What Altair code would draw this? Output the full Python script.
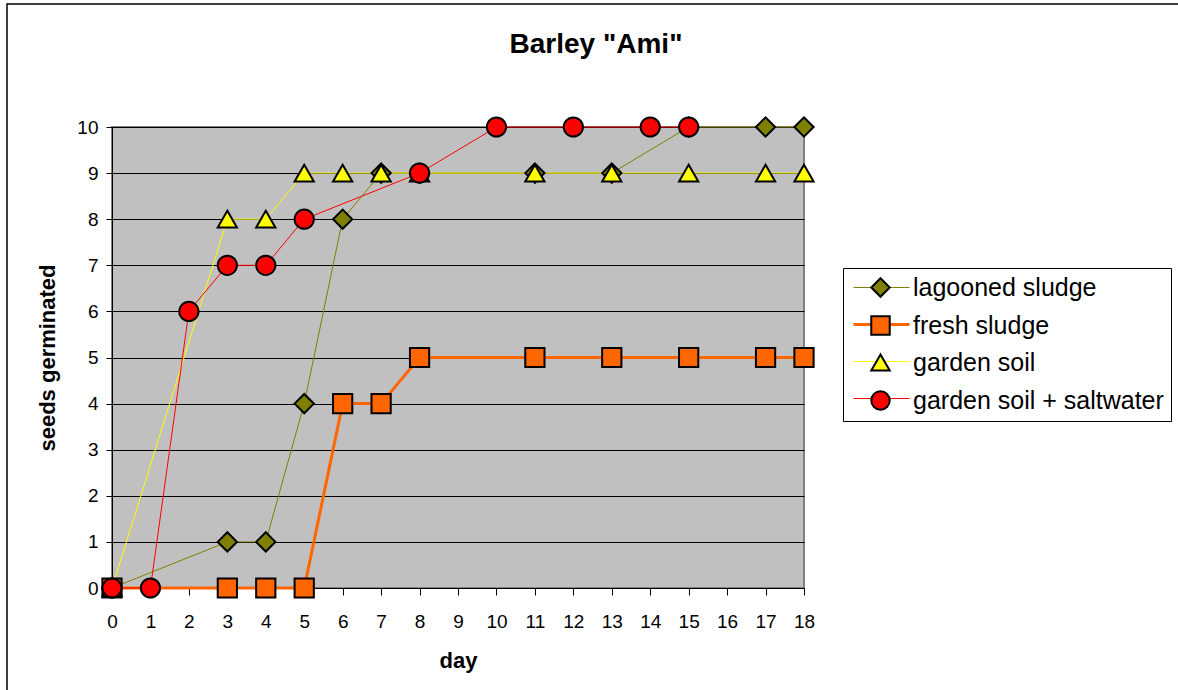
import altair as alt
import pandas as pd

# --- data -------------------------------------------------------------
days = list(range(19))

series_names = ["lagooned sludge", "fresh sludge", "garden soil", "garden soil + saltwater"]

lagooned_days = [0, 3, 4, 5, 6, 7, 8, 11, 13, 15, 17, 18]
lagooned_vals = [0, 1, 1, 4, 8, 9, 9, 9, 9, 10, 10, 10]

fresh_days = [0, 3, 4, 5, 6, 7, 8, 11, 13, 15, 17, 18]
fresh_vals = [0, 0, 0, 0, 4, 4, 5, 5, 5, 5, 5, 5]

garden_days = [0, 3, 4, 5, 6, 7, 8, 11, 13, 15, 17, 18]
garden_vals = [0, 8, 8, 9, 9, 9, 9, 9, 9, 9, 9, 9]

salt_days = [0, 1, 2, 3, 4, 5, 8, 10, 12, 14, 15]
salt_vals = [0, 0, 6, 7, 7, 8, 9, 10, 10, 10, 10]

y_ticks = list(range(11))

# --- styles -----------------------------------------------------------
line_colors = ["#808000", "#FF6600", "#FFFF00", "#FF0000"]
marker_fills = ["#808000", "#FF6600", "#FFFF00", "#FF0000"]
marker_edges = ["black", "black", "black", "black"]
marker_shapes = ["diamond", "square", "triangle-up", "circle"]
FONT = "Liberation Sans"

rows = []
for name, ds, vs in zip(
    series_names,
    [lagooned_days, fresh_days, garden_days, salt_days],
    [lagooned_vals, fresh_vals, garden_vals, salt_vals],
):
    for d, v in zip(ds, vs):
        rows.append({"series": name, "day": d, "seeds": v})
df = pd.DataFrame(rows)

x_enc = alt.X(
    "day:O",
    scale=alt.Scale(type="point", domain=days, padding=0),
    axis=alt.Axis(
        values=days,
        labelAngle=0,
        labelFont=FONT,
        labelFontSize=19,
        labelColor="black",
        labelPadding=17,
        tickColor="black",
        tickSize=7,
        domainColor="black",
        grid=False,
        title="day",
        titleFont=FONT,
        titleFontSize=22,
        titleFontWeight="bold",
        titleColor="black",
        titleX=346,
        titleY=72,
        titleBaseline="middle",
    ),
)
y_enc = alt.Y(
    "seeds:Q",
    scale=alt.Scale(domain=[0, 10], nice=False),
    axis=alt.Axis(
        values=y_ticks,
        labelFont=FONT,
        labelFontSize=19,
        labelColor="black",
        labelPadding=8,
        tickColor="black",
        tickSize=6,
        domainColor="black",
        grid=True,
        gridColor="black",
        gridWidth=1,
        title="seeds germinated",
        titleFont=FONT,
        titleFontSize=22,
        titleFontWeight="bold",
        titleColor="black",
        titleX=-65,
        titleY=230.5,
        titleBaseline="middle",
    ),
)

# legend drawing only the line segments (underneath); its labels are blank
line_legend = alt.Legend(
    orient="none",
    legendX=750,
    legendY=141,
    padding=7,
    title=None,
    symbolType="stroke",
    symbolSize=3136,
    symbolStrokeWidth=alt.ExprRef("datum.value == 'fresh sludge' ? 3 : 1"),
    symbolOffset=0,
    labelExpr="' '",
    labelLimit=0,
    labelFont=FONT,
    labelFontSize=25,
    rowPadding=11,
    zindex=0,
)

# legend drawing the markers, labels and box (on top)
marker_legend = alt.Legend(
    orient="none",
    legendX=731,
    legendY=141,
    padding=7,
    title=None,
    strokeColor="black",
    symbolSize=340,
    symbolStrokeWidth=2,
    symbolOpacity=1,
    symbolOffset=18,
    labelOffset=20,
    labelLimit=0,
    labelFont=FONT,
    labelFontSize=25,
    labelColor="black",
    rowPadding=11,
    zindex=5,
)

frame = alt.Chart(pd.DataFrame({"k": [0]})).mark_rect(
    fillOpacity=0, stroke="black", strokeWidth=1.5
).encode(
    x=alt.value(-105), x2=alt.value(1150), y=alt.value(-123), y2=alt.value(650)
)

lines = alt.Chart(df).mark_line().encode(
    x=x_enc,
    y=y_enc,
    color=alt.Color(
        "series:N",
        sort=series_names,
        scale=alt.Scale(range=line_colors),
        legend=line_legend,
    ),
    strokeWidth=alt.condition(
        alt.datum.series == "fresh sludge", alt.value(3), alt.value(1)
    ),
)

points = alt.Chart(df).mark_point(
    filled=True, size=370, strokeWidth=2, opacity=1
).encode(
    x=x_enc,
    y=y_enc,
    fill=alt.Fill(
        "series:N",
        scale=alt.Scale(domain=series_names, range=marker_fills),
        legend=marker_legend,
    ),
    shape=alt.Shape(
        "series:N",
        scale=alt.Scale(domain=series_names, range=marker_shapes),
        legend=marker_legend,
    ),
    stroke=alt.Stroke(
        "series:N",
        scale=alt.Scale(domain=series_names, range=marker_edges),
        legend=marker_legend,
    ),
)

chart = (
    alt.layer(frame, lines, points)
    .properties(
        width=692,
        height=461,
        title=alt.TitleParams(
            'Barley "Ami"',
            font=FONT,
            fontSize=28,
            fontWeight="bold",
            color="black",
            anchor="middle",
            dx=138,
            offset=-78,
            baseline="alphabetic",
        ),
        autosize=alt.AutoSizeParams(type="none"),
        padding={"left": 112, "top": 127, "right": 374, "bottom": 102},
        background="white",
    )
    .configure_view(fill="#C0C0C0", stroke="#808080", strokeWidth=2)
)

chart.save("out.html", embed_options={"renderer": "svg", "actions": False})
